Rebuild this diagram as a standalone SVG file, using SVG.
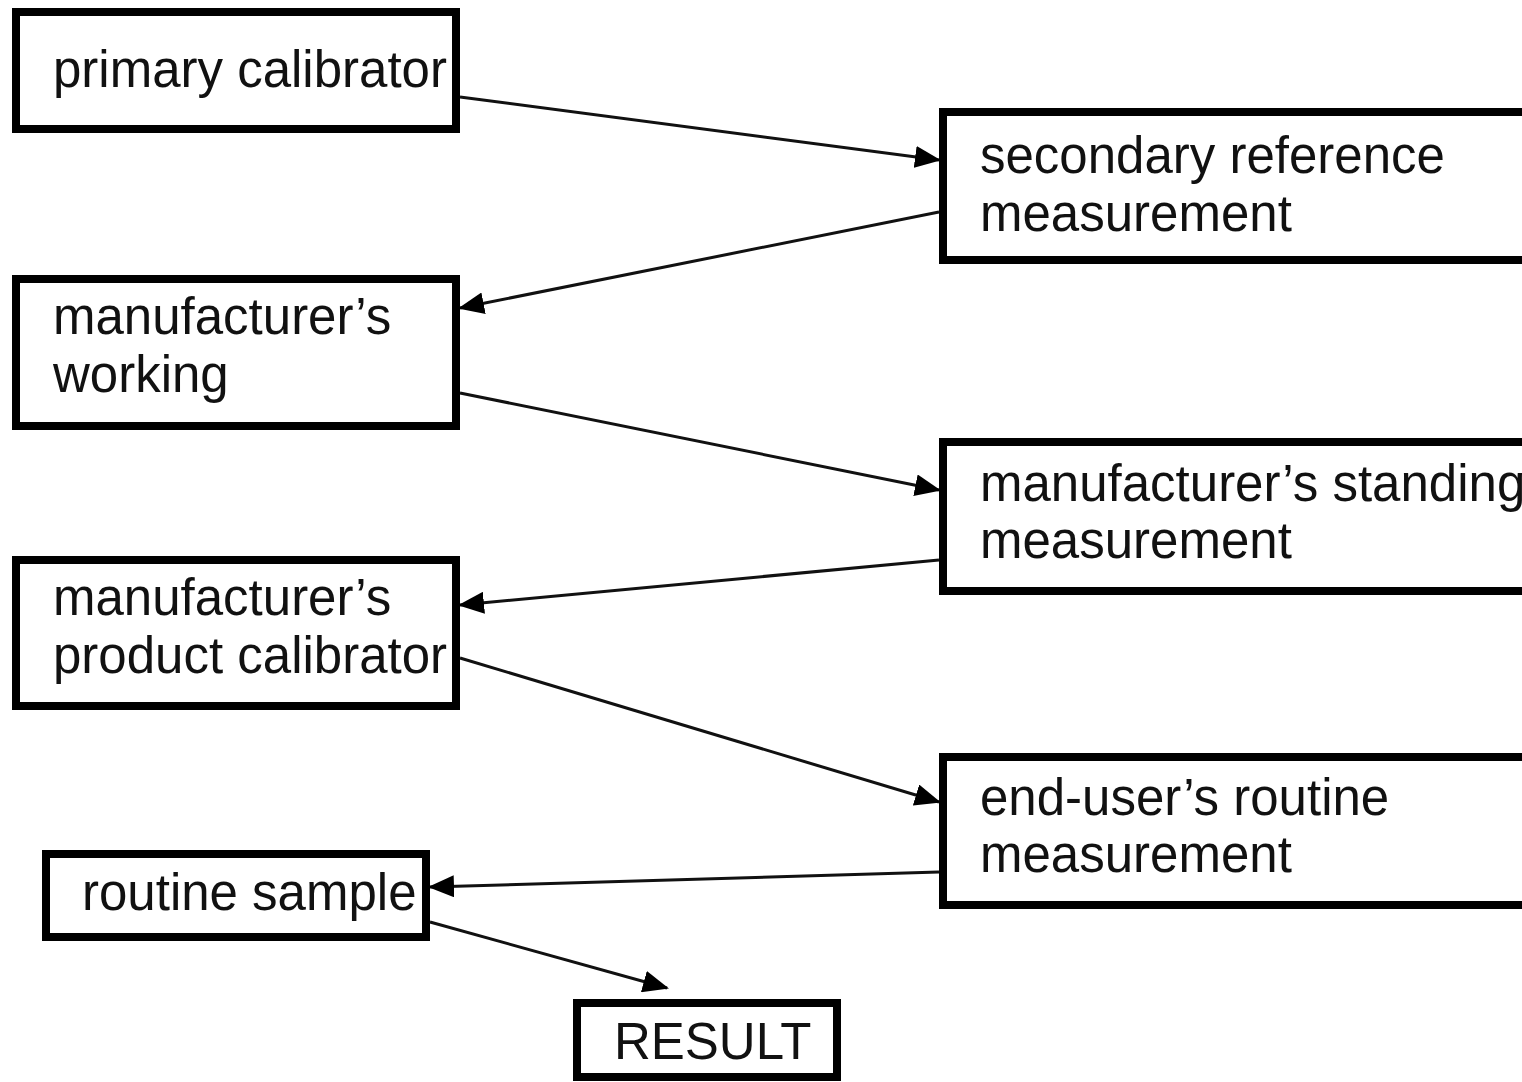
<svg xmlns="http://www.w3.org/2000/svg" width="1522" height="1082" viewBox="0 0 1522 1082">
<style>
.box{fill:#fff;stroke:#000;stroke-width:8}
.t{font-family:"Liberation Sans",Arial,sans-serif;font-size:51px;fill:#111}
.c{stroke:#111;stroke-width:3;fill:none;marker-end:url(#ah)}
</style>
<defs>
<marker id="ah" markerUnits="userSpaceOnUse" markerWidth="26" markerHeight="22" viewBox="0 0 26 22" refX="24" refY="11" orient="auto">
<path d="M0,0 L26,11 L0,22 Z" fill="#000"/>
</marker>
</defs>
<rect width="1522" height="1082" fill="#fff"/>
<g id="n1"><rect class="box" x="16" y="12" width="440" height="117"/><text class="t" x="53" y="87">primary calibrator</text></g>
<g id="n2"><rect class="box" x="943" y="112" width="600" height="148"/><text class="t" x="980" y="173">secondary reference</text><text class="t" x="980" y="231">measurement</text></g>
<g id="n3"><rect class="box" x="16" y="279" width="440" height="147"/><text class="t" x="53" y="334">manufacturer’s</text><text class="t" x="53" y="392">working</text></g>
<g id="n4"><rect class="box" x="943" y="442" width="600" height="149"/><text class="t" x="980" y="501">manufacturer’s standing</text><text class="t" x="980" y="558">measurement</text></g>
<g id="n5"><rect class="box" x="16" y="560" width="440" height="146"/><text class="t" x="53" y="615">manufacturer’s</text><text class="t" x="53" y="673">product calibrator</text></g>
<g id="n6"><rect class="box" x="943" y="757" width="600" height="148"/><text class="t" x="980" y="815">end-user’s routine</text><text class="t" x="980" y="872">measurement</text></g>
<g id="n7"><rect class="box" x="46" y="854" width="380" height="83"/><text class="t" x="82" y="910">routine sample</text></g>
<g id="n8"><rect class="box" x="577" y="1003" width="260" height="74"/><text class="t" x="614" y="1059">RESULT</text></g>
<g id="connectors">
<line class="c" x1="460" y1="97" x2="939" y2="160"/>
<line class="c" x1="939" y1="212" x2="460" y2="308"/>
<line class="c" x1="460" y1="393" x2="939" y2="490"/>
<line class="c" x1="939" y1="560" x2="460" y2="605"/>
<line class="c" x1="460" y1="658" x2="939" y2="802"/>
<line class="c" x1="939" y1="872" x2="430" y2="887"/>
<line class="c" x1="430" y1="922" x2="667" y2="988"/>
</g>
</svg>
